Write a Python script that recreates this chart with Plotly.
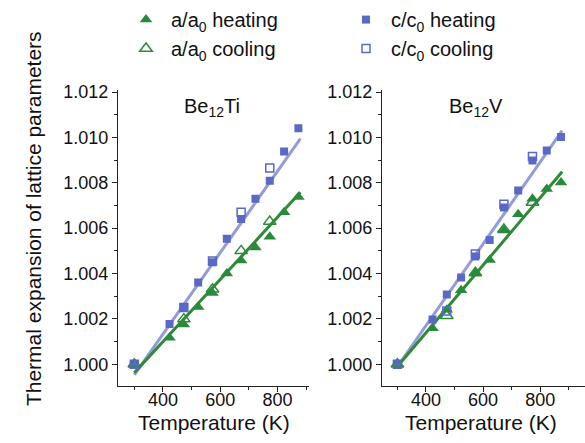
import plotly.graph_objects as go

W, H = 585, 443

# ---------------- data ----------------
T_heat = [300, 423, 473, 523, 573, 623, 673, 723, 773, 823, 873]
T_cool = [300, 473, 573, 673, 773]

# Be12Ti
ti_a_heat = [1.0000, 1.00117, 1.00175, 1.00252, 1.00314, 1.00400, 1.00457, 1.00515, 1.00562, 1.00670, 1.00737]
ti_a_cool = [1.0000, 1.00199, 1.00331, 1.00500, 1.00629]
ti_c_heat = [1.0000, 1.00178, 1.00249, 1.00361, 1.00450, 1.00553, 1.00641, 1.00730, 1.00809, 1.00938, 1.01041]
ti_c_cool = [1.0000, 1.00250, 1.00455, 1.00670, 1.00865]
ti_fit_T = [300, 880]
ti_a_fit = [0.99962, 1.00758]
ti_c_fit = [0.99953, 1.00995]

# Be12V
v_a_heat = [1.0000, 1.00159, 1.00240, 1.00326, 1.00400, 1.00460, 1.00590, 1.00661, 1.00730, 1.00773, 1.00801]
v_a_cool = [1.0000, 1.00214, 1.00403, 1.00594, 1.00713]
v_c_heat = [1.0000, 1.00197, 1.00307, 1.00383, 1.00475, 1.00548, 1.00691, 1.00766, 1.00898, 1.00942, 1.01002]
v_c_cool = [1.0000, 1.00235, 1.00486, 1.00705, 1.00916]
v_fit_T = [300, 877]
v_a_fit = [0.99990, 1.00849]
v_c_fit = [0.99990, 1.01030]

panel_titles = ["Be<sub>12</sub>Ti", "Be<sub>12</sub>V"]
legend_names = ["a/a<sub>0</sub> heating", "c/c<sub>0</sub> heating",
                "a/a<sub>0</sub> cooling", "c/c<sub>0</sub> cooling"]

# ---------------- style ----------------
GREEN = "#2a8a3c"
GREEN_LINE = "#2e8a35"
BLUE = "#5a68c6"
BLUE_LINE = "#939bd8"
FONT = "Liberation Sans, Arial, sans-serif"
TXT = "#111111"

fig = go.Figure()

panels = [
    (ti_fit_T, ti_a_fit, ti_c_fit, ti_a_heat, ti_a_cool, ti_c_heat, ti_c_cool, "x", "y"),
    (v_fit_T, v_a_fit, v_c_fit, v_a_heat, v_a_cool, v_c_heat, v_c_cool, "x2", "y2"),
]

for i, (fT, afit, cfit, ah, ac, ch, cc, xa, ya) in enumerate(panels):
    show = (i == 0)
    fig.add_trace(go.Scatter(x=fT, y=cfit, mode="lines", line=dict(color=BLUE_LINE, width=3),
                             showlegend=False, xaxis=xa, yaxis=ya))
    fig.add_trace(go.Scatter(x=fT, y=afit, mode="lines", line=dict(color=GREEN_LINE, width=3),
                             showlegend=False, xaxis=xa, yaxis=ya))
    fig.add_trace(go.Scatter(x=T_heat, y=ah, mode="markers", name=legend_names[0],
                             marker=dict(symbol="triangle-up", size=11, color=GREEN),
                             showlegend=show, legendrank=1, xaxis=xa, yaxis=ya))
    fig.add_trace(go.Scatter(x=T_heat, y=ch, mode="markers", name=legend_names[1],
                             marker=dict(symbol="square", size=8, color=BLUE),
                             showlegend=show, legendrank=2, xaxis=xa, yaxis=ya))
    fig.add_trace(go.Scatter(x=T_cool, y=ac, mode="markers", name=legend_names[2],
                             marker=dict(symbol="triangle-up-open", size=11, color=GREEN,
                                         line=dict(width=1.5, color=GREEN)),
                             showlegend=show, legendrank=3, xaxis=xa, yaxis=ya))
    fig.add_trace(go.Scatter(x=T_cool, y=cc, mode="markers", name=legend_names[3],
                             marker=dict(symbol="square-open", size=8, color=BLUE,
                                         line=dict(width=1.5, color=BLUE)),
                             showlegend=show, legendrank=4, xaxis=xa, yaxis=ya))

y_top = 1 - 85 / H
y_bot = 1 - 385 / H

xcommon = dict(showgrid=False, zeroline=False, showline=True, linecolor="#222", linewidth=1.2,
               ticks="outside", ticklen=5, tickwidth=1, tickcolor="#222",
               dtick=200, tick0=0, ticklabelstandoff=-7,
               minor=dict(ticks="outside", ticklen=3, dtick=100, tick0=0, tickcolor="#222"),
               tickfont=dict(family=FONT, size=18, color=TXT))
ycommon = dict(showgrid=False, zeroline=False, showline=True, linecolor="#222", linewidth=1.2,
               ticks="outside", ticklen=5, tickwidth=1, tickcolor="#222",
               dtick=0.002, tick0=1.0, tickformat=".3f", range=[0.99905, 1.0121],
               minor=dict(ticks="outside", ticklen=3, dtick=0.001, tickcolor="#222"),
               tickfont=dict(family=FONT, size=18, color=TXT))

fig.update_layout(
    width=W, height=H,
    margin=dict(l=0, r=0, t=0, b=0),
    paper_bgcolor="white", plot_bgcolor="white",
    font=dict(family=FONT, color=TXT),
    xaxis=dict(domain=[118 / W, 309 / W], range=[243, 910], anchor="y", **xcommon),
    yaxis=dict(domain=[y_bot, y_top], anchor="x", **ycommon),
    xaxis2=dict(domain=[382 / W, 1.0], range=[246, 957], anchor="y2", **xcommon),
    yaxis2=dict(domain=[y_bot, y_top], anchor="x2", **ycommon),
    legend=dict(orientation="h", x=121 / W, y=1 + 6 / H, xanchor="left", yanchor="top",
                entrywidth=165, entrywidthmode="pixels", itemwidth=40,
                font=dict(family=FONT, size=20, color=TXT),
                bgcolor="rgba(0,0,0,0)", traceorder="normal"),
    showlegend=True,
)

annotations = [
    dict(text="Thermal expansion of lattice parameters", x=33 / W, y=1 - 216 / H,
         xref="paper", yref="paper", textangle=-90, showarrow=False,
         font=dict(family=FONT, size=21, color=TXT), xanchor="center", yanchor="middle"),
    dict(text="Temperature (K)", x=(118 + 309) / 2 / W, y=1 - 422 / H, xref="paper", yref="paper",
         showarrow=False, font=dict(family=FONT, size=21, color=TXT), xanchor="center", yanchor="middle"),
    dict(text="Temperature (K)", x=(382 + 585) / 2 / W - 3 / W, y=1 - 422 / H, xref="paper", yref="paper",
         showarrow=False, font=dict(family=FONT, size=21, color=TXT), xanchor="center", yanchor="middle"),
    dict(text=panel_titles[0], x=212 / W, y=1 - 103 / H, xref="paper", yref="paper",
         showarrow=False, font=dict(family=FONT, size=20, color=TXT), xanchor="center", yanchor="middle"),
    dict(text=panel_titles[1], x=476 / W, y=1 - 103 / H, xref="paper", yref="paper",
         showarrow=False, font=dict(family=FONT, size=20, color=TXT), xanchor="center", yanchor="middle"),
]
fig.update_layout(annotations=annotations)

fig.write_html("out.html")
